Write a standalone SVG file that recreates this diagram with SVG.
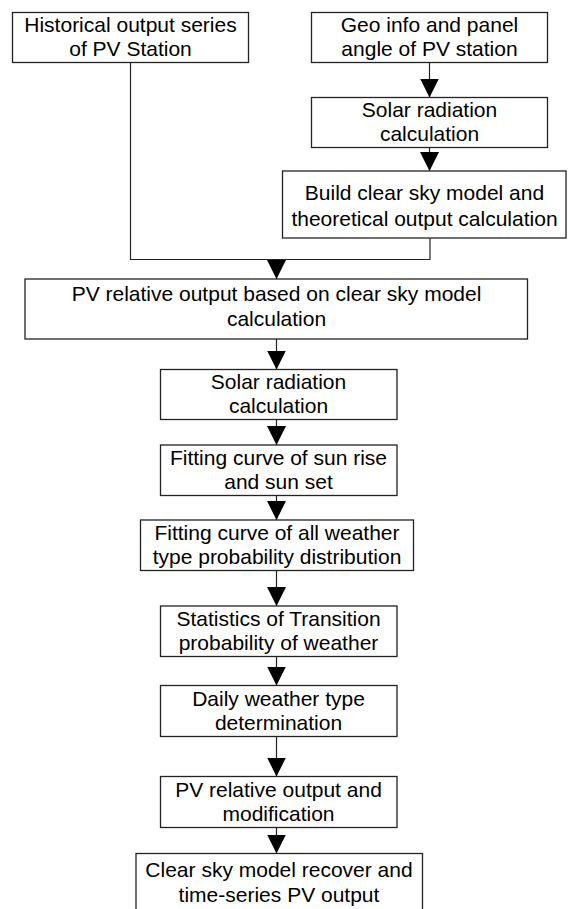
<svg xmlns="http://www.w3.org/2000/svg" width="568" height="909" viewBox="0 0 568 909">
<style>
.box{fill:#fff;stroke:#222;stroke-width:1.3}
.t{font-family:"Liberation Sans",Arial,sans-serif;font-size:21px;fill:#000;text-anchor:middle}
.c{fill:none;stroke:#222;stroke-width:1.2}
</style>
<defs>
<marker id="ah" markerUnits="userSpaceOnUse" viewBox="0 0 19 19" markerWidth="19" markerHeight="19" refX="19" refY="9.5" orient="auto">
<path d="M0,0 L19,9.5 L0,19 z" fill="#000"/>
</marker>
</defs>
<rect width="568" height="909" fill="#fff"/>
<g id="connectors">
<line class="c" x1="429.5" y1="62.5" x2="429.5" y2="97.5" marker-end="url(#ah)"/>
<line class="c" x1="429.5" y1="147.5" x2="429.5" y2="171" marker-end="url(#ah)"/>
<polyline class="c" points="130.5,62.5 130.5,259.5 430,259.5 430,238"/>
<line class="c" x1="276.5" y1="259.5" x2="276.5" y2="279" marker-end="url(#ah)"/>
<line class="c" x1="276.5" y1="339" x2="276.5" y2="369.5" marker-end="url(#ah)"/>
<line class="c" x1="276.5" y1="419.5" x2="276.5" y2="445" marker-end="url(#ah)"/>
<line class="c" x1="276.5" y1="495.5" x2="276.5" y2="520" marker-end="url(#ah)"/>
<line class="c" x1="276.5" y1="570.5" x2="276.5" y2="606" marker-end="url(#ah)"/>
<line class="c" x1="276.5" y1="656.5" x2="276.5" y2="685.5" marker-end="url(#ah)"/>
<line class="c" x1="276.5" y1="736.5" x2="276.5" y2="776.5" marker-end="url(#ah)"/>
<line class="c" x1="276.5" y1="827.5" x2="276.5" y2="853.5" marker-end="url(#ah)"/>
</g>
<g id="n-historical">
<rect class="box" x="12.5" y="12.5" width="236" height="50"/>
<text class="t" x="130.5" y="32">Historical output series</text>
<text class="t" x="130.5" y="56">of PV Station</text>
</g>
<g id="n-geo">
<rect class="box" x="311.5" y="12.5" width="236" height="50"/>
<text class="t" x="429.5" y="32">Geo info and panel</text>
<text class="t" x="429.5" y="56">angle of PV station</text>
</g>
<g id="n-solar1">
<rect class="box" x="311.5" y="97.5" width="236" height="50"/>
<text class="t" x="429.5" y="117">Solar radiation</text>
<text class="t" x="429.5" y="141">calculation</text>
</g>
<g id="n-build">
<rect class="box" x="282.5" y="171" width="283.5" height="67"/>
<text class="t" x="424.5" y="200">Build clear sky model and</text>
<text class="t" x="424.5" y="225.5">theoretical output calculation</text>
</g>
<g id="n-relative">
<rect class="box" x="25" y="279" width="502.5" height="60"/>
<text class="t" x="276.5" y="301">PV relative output based on clear sky model</text>
<text class="t" x="276.5" y="326">calculation</text>
</g>
<g id="n-solar2">
<rect class="box" x="160.5" y="369.5" width="236.5" height="50"/>
<text class="t" x="278.5" y="389">Solar radiation</text>
<text class="t" x="278.5" y="413">calculation</text>
</g>
<g id="n-sunrise">
<rect class="box" x="160.5" y="445" width="236.5" height="50.5"/>
<text class="t" x="278.5" y="464.5">Fitting curve of sun rise</text>
<text class="t" x="278.5" y="488.5">and sun set</text>
</g>
<g id="n-weather">
<rect class="box" x="140.5" y="520" width="273" height="50.5"/>
<text class="t" x="277" y="540">Fitting curve of all weather</text>
<text class="t" x="277" y="564">type probability distribution</text>
</g>
<g id="n-transition">
<rect class="box" x="160.5" y="606" width="236.5" height="50.5"/>
<text class="t" x="278.5" y="626">Statistics of Transition</text>
<text class="t" x="278.5" y="650">probability of weather</text>
</g>
<g id="n-daily">
<rect class="box" x="160.5" y="685.5" width="236.5" height="51"/>
<text class="t" x="278.5" y="705.5">Daily weather type</text>
<text class="t" x="278.5" y="729.5">determination</text>
</g>
<g id="n-modification">
<rect class="box" x="160.5" y="776.5" width="236.5" height="51"/>
<text class="t" x="278.5" y="796.5">PV relative output and</text>
<text class="t" x="278.5" y="820.5">modification</text>
</g>
<g id="n-recover">
<rect class="box" x="136" y="853.5" width="286.5" height="62"/>
<text class="t" x="279" y="877">Clear sky model recover and</text>
<text class="t" x="279" y="902">time-series PV output</text>
</g>
</svg>
